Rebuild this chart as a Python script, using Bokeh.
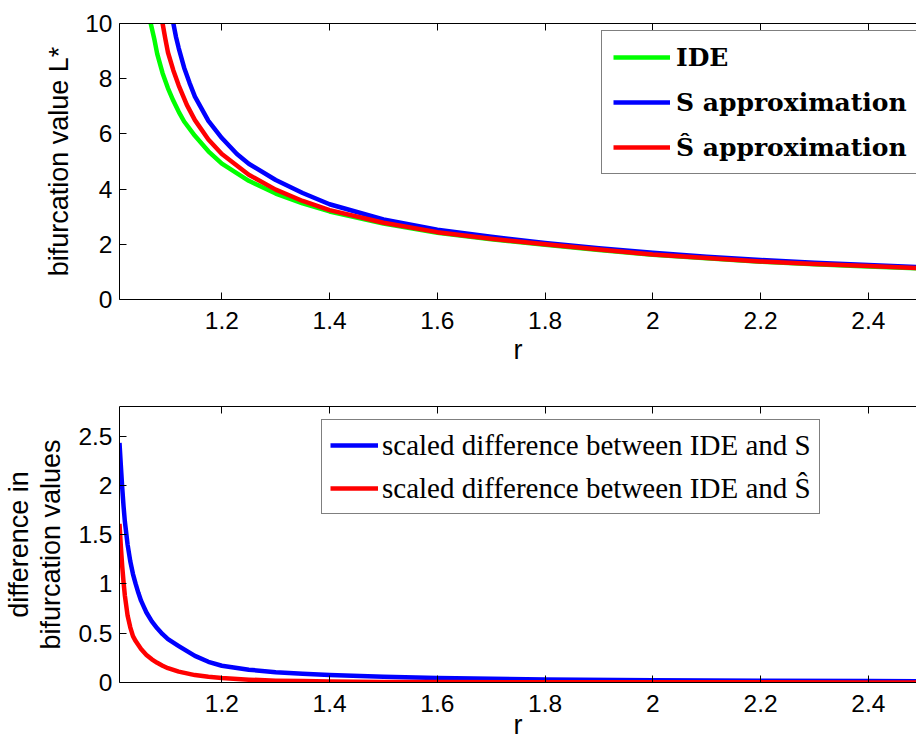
from bokeh.plotting import figure
from bokeh.models import LinearAxis, FixedTicker, Range1d, Legend, LegendItem
from bokeh.layouts import column
from bokeh.embed import file_html
from bokeh.resources import INLINE

# ---------------- data ----------------
# top panel: bifurcation value L* versus r
r_ide = [1.068, 1.075, 1.08, 1.09, 1.10, 1.11, 1.12, 1.13, 1.15, 1.175, 1.20, 1.25,
         1.30, 1.35, 1.40, 1.50, 1.60, 1.70, 1.80, 1.90, 2.00, 2.10, 2.20, 2.30, 2.40, 2.49]
L_ide = [10.0, 9.4, 8.9, 8.2, 7.65, 7.2, 6.8, 6.45, 5.93, 5.37, 4.92, 4.30,
         3.84, 3.48, 3.19, 2.75, 2.42, 2.18, 1.98, 1.79, 1.62, 1.49, 1.37, 1.28, 1.20, 1.13]

r_s = [1.110, 1.115, 1.12, 1.13, 1.14, 1.15, 1.175, 1.20, 1.228, 1.25, 1.30, 1.35,
       1.40, 1.50, 1.60, 1.70, 1.80, 1.90, 2.00, 2.10, 2.20, 2.30, 2.40, 2.49]
L_s = [10.0, 9.5, 9.1, 8.4, 7.85, 7.35, 6.47, 5.85, 5.27, 4.92, 4.33, 3.86,
       3.45, 2.90, 2.53, 2.27, 2.05, 1.86, 1.69, 1.55, 1.43, 1.33, 1.25, 1.18]

r_shat = [1.09, 1.095, 1.10, 1.11, 1.12, 1.135, 1.15, 1.175, 1.20, 1.25, 1.30, 1.35,
          1.40, 1.50, 1.60, 1.70, 1.80, 1.90, 2.00, 2.10, 2.20, 2.30, 2.40, 2.49]
L_shat = [10.0, 9.45, 8.95, 8.3, 7.75, 7.05, 6.5, 5.8, 5.27, 4.52, 3.98, 3.57,
          3.24, 2.78, 2.44, 2.20, 2.00, 1.81, 1.63, 1.50, 1.38, 1.29, 1.21, 1.14]

# bottom panel: scaled differences
r_diff = [1.01, 1.0125, 1.015, 1.0175, 1.02, 1.025, 1.03, 1.035, 1.04, 1.045,
          1.05, 1.055, 1.06, 1.07, 1.08, 1.09, 1.10, 1.12, 1.15, 1.175,
          1.20, 1.25, 1.30, 1.35, 1.40, 1.50, 1.60, 1.80, 2.00, 2.20, 2.40, 2.49]
d_s = [2.43, 2.2, 1.98, 1.79, 1.63, 1.40, 1.23, 1.10, 1.0, 0.91,
       0.83, 0.77, 0.71, 0.62, 0.55, 0.49, 0.44, 0.37, 0.27, 0.21,
       0.17, 0.13, 0.105, 0.088, 0.076, 0.058, 0.046, 0.031, 0.023, 0.018, 0.014, 0.013]
d_shat = [1.61, 1.38, 1.18, 1.02, 0.88, 0.68, 0.56, 0.47, 0.42, 0.38,
          0.34, 0.31, 0.28, 0.235, 0.20, 0.17, 0.145, 0.11, 0.075, 0.058,
          0.045, 0.029, 0.019, 0.014, 0.010, 0.006, 0.004, 0.003, 0.002, 0.0015, 0.001, 0.001]

x_ticks = [1.2, 1.4, 1.6, 1.8, 2.0, 2.2, 2.4]
x_tick_labels = ["1.2", "1.4", "1.6", "1.8", "2", "2.2", "2.4"]
top_y_ticks = [0, 2, 4, 6, 8, 10]
top_y_labels = ["0", "2", "4", "6", "8", "10"]
bot_y_ticks = [0, 0.5, 1, 1.5, 2, 2.5]
bot_y_labels = ["0", "0.5", "1", "1.5", "2", "2.5"]

top_labels = ["IDE", "S approximation", "\u015c approximation"]
bot_labels = ["scaled difference between IDE and S",
              "scaled difference between IDE and \u015c"]

GREEN, BLUE, RED = "#00ff00", "#0000ff", "#ff0000"
X_RANGE = (1.01, 2.4895)

TICK_FONT = "Liberation Sans"
TICK_SIZE = "24.5px"
LABEL_SIZE = "27px"


def style_axis(ax, ticks, labels):
    ax.ticker = FixedTicker(ticks=ticks)
    ax.major_label_overrides = dict(zip(ticks, labels))
    ax.minor_tick_line_color = None
    ax.major_tick_in = 7
    ax.major_tick_out = 0
    ax.axis_line_color = "black"
    ax.axis_line_width = 1
    ax.major_tick_line_color = "black"
    ax.major_label_text_font = TICK_FONT
    ax.major_label_text_font_size = TICK_SIZE
    ax.major_label_text_color = "black"
    ax.axis_label_text_font = TICK_FONT
    ax.axis_label_text_font_size = LABEL_SIZE
    ax.axis_label_text_font_style = "normal"
    ax.axis_label_text_color = "black"


def make_fig(height, y_range, border_top, border_bottom):
    p = figure(width=916, height=height, output_backend="svg", toolbar_location=None,
               x_range=Range1d(*X_RANGE), y_range=Range1d(*y_range),
               x_axis_location=None, y_axis_location=None,
               min_border_left=119, min_border_right=0,
               min_border_top=border_top, min_border_bottom=border_bottom)
    p.outline_line_color = None
    p.xgrid.visible = False
    p.ygrid.visible = False
    p.background_fill_color = "white"
    p.border_fill_color = "white"
    return p


def add_axes(p, y_ticks, y_labels, y_title, x_label_standoff, y_label_standoff):
    xb = LinearAxis(axis_label="r")
    style_axis(xb, x_ticks, x_tick_labels)
    xb.major_label_standoff = 12
    xb.axis_label_standoff = x_label_standoff
    p.add_layout(xb, "below")

    xt = LinearAxis()
    style_axis(xt, x_ticks, ["" for _ in x_ticks])
    xt.major_label_text_font_size = "0px"
    xt.major_label_standoff = 0
    p.add_layout(xt, "above")

    yl = LinearAxis(axis_label=y_title)
    style_axis(yl, y_ticks, y_labels)
    yl.major_label_standoff = 7
    yl.axis_label_standoff = y_label_standoff
    yl.axis_label_text_line_height = 1.07
    p.add_layout(yl, "left")


def style_legend(leg, font, style, size, glyph_w, row_h, standoff, pad, spacing):
    leg.label_text_font = font
    leg.label_text_font_style = style
    leg.label_text_font_size = size
    leg.label_text_color = "black"
    leg.glyph_width = glyph_w
    leg.glyph_height = row_h
    leg.label_height = row_h
    leg.label_standoff = standoff
    leg.padding = pad
    leg.spacing = spacing
    leg.margin = 0
    leg.border_line_color = "black"
    leg.border_line_width = 1
    leg.background_fill_color = "white"
    leg.background_fill_alpha = 1


LW = 4.5

# ---------------- top panel ----------------
p1 = make_fig(374, (0, 10), 23, 75)
add_axes(p1, top_y_ticks, top_y_labels, "bifurcation value L*", 3, 8)
g1 = p1.line(r_ide, L_ide, line_color=GREEN, line_width=LW, line_join="round")
b1 = p1.line(r_s, L_s, line_color=BLUE, line_width=LW, line_join="round")
r1 = p1.line(r_shat, L_shat, line_color=RED, line_width=LW, line_join="round")

leg1 = Legend(items=[LegendItem(label=top_labels[0], renderers=[g1]),
                     LegendItem(label=top_labels[1], renderers=[b1]),
                     LegendItem(label=top_labels[2], renderers=[r1])],
              location=(482, 125))
style_legend(leg1, "DejaVu Serif", "bold", "25px", 57, 30, 6, 11, 15)
p1.add_layout(leg1)

# ---------------- bottom panel ----------------
p2 = make_fig(368, (0, 2.8), 32, 59)
add_axes(p2, bot_y_ticks, bot_y_labels, "difference in\nbifurcation values", -5, 9)
b2 = p2.line(r_diff, d_s, line_color=BLUE, line_width=LW, line_join="round")
r2 = p2.line(r_diff, d_shat, line_color=RED, line_width=LW, line_join="round")

leg2 = Legend(items=[LegendItem(label=bot_labels[0], renderers=[b2]),
                     LegendItem(label=bot_labels[1], renderers=[r2])],
              location=(202, 168))
style_legend(leg2, "Liberation Serif", "normal", "29px", 48, 34, 4, 8, 9)
p2.add_layout(leg2)

layout = column(p1, p2, spacing=0)
open("out.html", "w").write(file_html(layout, INLINE))
